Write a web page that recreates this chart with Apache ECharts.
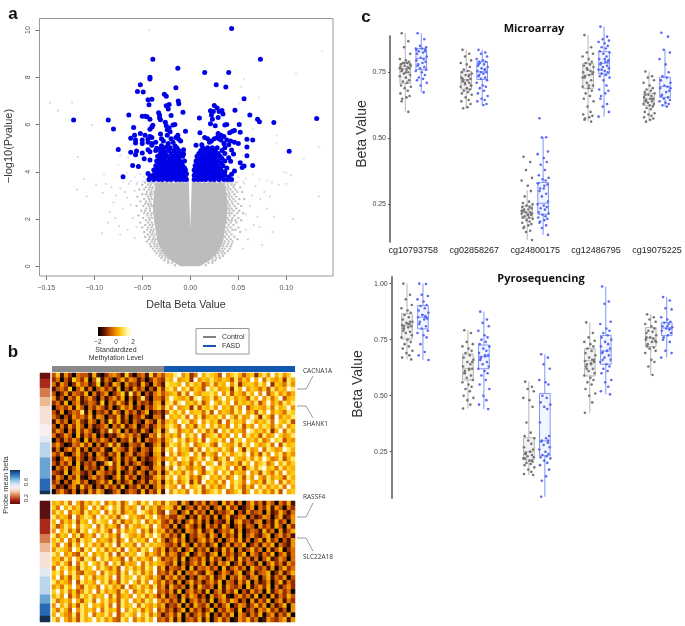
<!DOCTYPE html>
<html><head><meta charset="utf-8">
<style>html,body{margin:0;padding:0;background:#fff}#c{width:685px;height:626px;filter:blur(0.55px)}</style>
<script src="https://cdn.jsdelivr.net/npm/echarts@6/dist/echarts.min.js"></script>
</head><body><div id="c"></div>
<script>
const volcanoXTicks=[-0.15,-0.10,-0.05,0,0.05,0.10];
const volcanoYTicks=[0,2,4,6,8,10];
const cloudLevels=[3.58,3,2.5,2,1.5,1,0.75,0.5,0.25,0.1,0];
const cloudLeft=[-0.036,-0.038,-0.039,-0.038,-0.036,-0.034,-0.031,-0.027,-0.02,-0.014,-0.01];
const cloudRight=[0.036,0.038,0.039,0.038,0.036,0.034,0.031,0.027,0.02,0.014,0.01];
const cloudGapTop=[[0.0016,3.58],[0,1.6],[-0.0016,3.58]];
const grayEdgeRows=[
[3.55,[-.047,-.043,-.04,-.038,.038,.041,.044,.048]],[3.45,[-.05,-.044,-.041,-.037,.039,.043,.046]],[3.35,[-.046,-.042,-.039,.037,.04,.045,.052]],[3.25,[-.053,-.048,-.043,-.04,.039,.042,.047]],[3.15,[-.045,-.041,-.038,.04,.044,.049,.054]],
[3.05,[-.05,-.046,-.042,-.04,.038,.041,.046]],[2.95,[-.055,-.044,-.041,.04,.043,.048]],[2.85,[-.048,-.043,-.04,.041,.045,.051,.056]],[2.75,[-.052,-.046,-.042,.039,.043,.047]],[2.65,[-.047,-.044,-.041,.04,.044,.05]],
[2.55,[-.056,-.049,-.043,-.04,.041,.046,.053]],[2.45,[-.046,-.042,.04,.043,.048]],[2.35,[-.051,-.047,-.042,.041,.045,.051]],[2.25,[-.048,-.044,-.04,.04,.043,.049,.055]],[2.15,[-.054,-.045,-.041,.041,.046]],
[2.05,[-.049,-.043,-.04,.039,.044,.05]],[1.95,[-.046,-.042,.04,.043,.047,.053]],[1.85,[-.052,-.044,-.04,.038,.042,.048]],[1.75,[-.047,-.042,-.039,.04,.045]],[1.65,[-.05,-.044,-.04,.038,.042,.05]],
[1.55,[-.045,-.041,-.038,.039,.044,.047]],[1.45,[-.048,-.042,-.039,.037,.041,.052]],[1.35,[-.044,-.04,-.037,.038,.043]],[1.25,[-.047,-.042,-.038,.036,.04,.046]],[1.15,[-.043,-.039,-.036,.038,.042,.049]],
[1.05,[-.045,-.04,-.037,.036,.04,.044]],[.95,[-.042,-.038,-.035,.035,.039,.043]],[.85,[-.041,-.037,-.034,.034,.038,.042]],[.75,[-.039,-.035,-.032,.033,.036,.041]],[.65,[-.037,-.033,-.03,.031,.034,.039]],
[.55,[-.035,-.031,-.028,.029,.033,.036]],[.45,[-.032,-.029,-.026,.026,.03,.034]],[.35,[-.03,-.026,-.023,.023,.027,.031]],[.25,[-.027,-.023,.023,.026]],[.15,[-.023,-.019,.019,.023]],[.05,[-.016,.016]]];
const blueSparse=[[.043,10.07],[.073,8.76],[-.039,8.77],[-.013,8.38],[.015,8.2],[.04,8.2],[-.042,8],[-.042,7.93],[-.052,7.69],[-.055,7.4],[-.049,7.38],[-.015,7.56],[.027,7.69],[.037,7.59],[-.027,7.28],[-.025,7.2],[-.044,7.05],[-.04,7.07],[-.0125,7],[-.012,6.88],[.056,7.09],[-.043,6.84],[-.025,6.8],[-.022,6.85],[-.023,6.66],[-.0076,6.52],[-.1215,6.19],[-.0854,6.19],[-.064,6.4],[-.08,5.81],[-.075,4.95],[-.07,3.79],[.1316,6.26],[.087,6.09],[.103,4.87],[.07,6.22],[.072,6.12],[.062,6.4],[.0465,6.61],[.025,6.81],
[-.05,6.35],[-.047,6.35],[-.045,6.33],[-.042,6.22],[-.033,6.5],[-.032,6.4],[-.032,6.28],[-.031,6.2],[-.026,6.1],[-.02,6.38],[-.039,5.97],[-.04,5.9],[-.042,5.8],[-.059,5.88],[-.052,5.62],[-.058,5.55],[-.047,5.55],[-.042,5.5],[-.04,5.45],[-.031,5.6],[-.025,5.95],[-.022,5.85],[-.018,5.98],[-.016,6],[-.024,5.78],[-.021,5.7],[-.013,5.55],[-.005,5.72],[-.062,5.42],[-.057,5.35],[-.057,5.22],[-.05,5.35],[-.05,5.2],[-.044,5.38],[-.044,5.25],[-.04,5.2],[-.04,5.12],[-.036,5.25],[-.03,5.4],[-.028,5.3],[-.024,5.55],[-.023,5.2],[-.02,5.4],[-.018,5.25],[-.015,5.45],[-.012,5.38],[-.01,5.3],[-.062,4.83],[-.056,4.88],[-.057,4.72],[-.05,4.8],[-.044,4.93],[-.042,4.85],[-.035,5],[-.032,4.95],[-.03,5.1],[-.028,4.8],[-.025,5.05],[-.022,4.95],[-.016,5.1],[-.007,4.93],[-.007,4.75],[-.06,4.27],[-.054,4.22],[-.048,4.55],[-.042,4.5],[-.044,3.93],[-.042,3.82],
[.0095,6.28],[.021,6.58],[.022,6.4],[.024,6.55],[.028,6.7],[.03,6.55],[.033,6.6],[.034,6.45],[.029,6.3],[.023,6.22],[.021,6.03],[.026,5.95],[.036,5.98],[.038,6],[.051,6],[.052,5.68],[.046,5.75],[.044,5.72],[.041,5.65],[.01,5.65],[.029,5.62],[.032,5.55],[.035,5.5],[.059,5.38],[.065,5.35],[.059,5.05],[.059,4.68],[.065,4.27],[.056,4.25],[.054,4.18],[.052,4.38],[.046,5.25],[.05,5.2],[.042,5.3],[.04,5.15],[.038,5.35],[.035,5.2],[.032,5.35],[.03,5.4],[.028,5.45],[.025,5.4],[.022,5.3],[.02,5.25],[.018,5.4],[.015,5.45],[.012,5.15],[.006,5.12],[.043,4.92],[.045,4.75],[.04,4.6],[.042,4.45],[.046,4.03],[.043,3.9],[.04,3.78],[.036,3.85]];
const blueDenseRows=[
[3.68,[-.043,-.038,-.033,-.029,-.024,-.02,-.015,-.011,-.007,-.004,.004,.008,.012,.016,.021,.025,.03,.035,.039,.043]],
[3.76,[-.041,-.036,-.031,-.026,-.022,-.017,-.013,-.009,-.005,.006,.01,.014,.019,.023,.027,.032]],
[3.84,[-.039,-.034,-.028,-.024,-.019,-.015,-.01,-.006,.004,.008,.012,.017,.021,.026,.03,.034]],
[3.92,[-.037,-.032,-.027,-.022,-.018,-.012,-.008,-.004,.005,.01,.014,.019,.024,.028,.033]],
[4.0,[-.035,-.03,-.025,-.02,-.016,-.011,-.007,.006,.011,.015,.02,.025,.03,.036]],
[4.08,[-.038,-.031,-.026,-.021,-.017,-.013,-.009,-.005,.004,.008,.013,.018,.022,.027,.032]],
[4.16,[-.034,-.029,-.024,-.019,-.014,-.01,-.006,.006,.01,.016,.02,.025,.03,.038]],
[4.26,[-.036,-.031,-.027,-.022,-.017,-.012,-.008,.005,.009,.014,.019,.023,.028,.034]],
[4.36,[-.033,-.028,-.023,-.018,-.014,-.009,.007,.012,.017,.022,.026,.032]],
[4.46,[-.035,-.03,-.025,-.02,-.015,-.011,-.006,.006,.011,.015,.02,.025,.029,.036]],
[4.56,[-.032,-.027,-.021,-.016,-.012,.008,.013,.018,.023,.027,.033]],
[4.66,[-.034,-.029,-.024,-.018,-.013,-.008,.007,.012,.017,.021,.026,.031]],
[4.78,[-.031,-.026,-.02,-.015,-.01,.009,.014,.019,.024,.029,.036]],
[4.9,[-.036,-.028,-.023,-.017,-.012,.011,.016,.021,.026,.033]],
[5.02,[-.03,-.021,-.014,.013,.018,.023,.028,.036]]];
const grayOutliers=[[-.138,6.6],[-.146,6.92],[-.123,6.93],[-.102,5.98],[-.117,4.63],[-.111,3.7],[-.118,3.25],[-.108,2.95],[-.098,3.45],[-.088,3.5],[-.091,3.1],[-.082,3.35],[-.077,3.0],[-.073,3.3],[-.068,3.15],[-.08,2.7],[-.084,2.3],[-.086,1.85],[-.078,2.05],[-.074,1.7],[-.07,2.45],[-.066,2.9],[-.062,2.6],[-.06,2.05],[-.058,3.2],[-.056,1.65],[-.058,1.2],[-.065,1.55],[-.073,1.35],[-.092,1.4],[-.056,3.48],[-.064,3.5],[.055,0.75],[.058,1.55],[.058,2.2],[.062,2.55],[.06,1.15],[.066,1.75],[.064,3.0],[.068,3.4],[.07,2.1],[.072,1.65],[.073,2.85],[.075,0.9],[.077,3.15],[.08,2.45],[.083,2.95],[.085,3.55],[.087,2.1],[.086,1.45],[.107,2.0],[.134,2.95],[.092,3.45],[.1,3.5],[.105,3.85],[.056,3.5]];
const faintPoints=[[-.043,10],[.137,9.1],[.11,8.15],[.056,7.93],[.071,7.15],[.051,6.9],[.134,5.05],[.118,4.55],[.1,3.95],[.097,4.0],[.09,5.2],[.09,5.55],[.065,5.8],[.053,7.6],[-.09,3.9],[-.075,4.3],[-.073,4.7],[-.065,4.6],[-.066,3.95],[-.058,3.78],[-.052,3.9],[-.048,3.78],[.05,3.78],[.058,3.72],[.065,3.9],[.072,3.68],[.08,3.62],[.055,3.58],[.049,3.56],[.044,3.57],[.039,3.6],[.034,3.58],[.028,3.57],[.022,3.6],[.017,3.58],[.012,3.57],[.006,3.6],[-.006,3.58],[-.012,3.6],[-.017,3.57],[-.022,3.58],[-.027,3.6],[-.033,3.57],[-.038,3.6],[-.044,3.58],[-.049,3.6],[-.055,3.56],[-.062,3.6],[-.07,3.58]];

const heatColumns=60;
const heatTopRows=[
"3715204331 6102453172 0341725366 8957249687 6395786367 2685968579",
"2403174260 3814203625 4130253276 9567295768 6576384759 6948657286",
"4153026341 2703164052 3162053187 7695867358 4769582677 5869276485",
"1342703614 0352416031 5240316278 5968476397 8567286957 6473857698",
"3025143260 4135024718 2503146356 7384965778 6958376486 9593685746",
"5130426135 2041352604 1382044269 7657389568 4796857638 6958479367",
"2416035124 3170426315 0423156178 4896758369 7586947675 8369574868",
"0342516304 2531402635 1304257385 9567283768 5967485936 7658486795",
"3150243815 0324163052 4136023148 6859677483 9576486957 3869576487",
"4203153426 1540326140 3251044196 7684958367 6859748569 7286395768",
"1524036215 3041726130 4205316267 5978469586 7394867598 5768497683",
"3041526304 1235042613 5024136378 6495738696 8574968375 9687486957",
"2530416253 0142836041 3152047169 8467596847 3968576498 6758269486",
"4125306142 5030214635 2401538375 7496859367 8475969486 7385697568",
"0314253061 4253140326 1504235267 9684758397 6859487967 5846978365",
"3520143625 0413726104 3250146158 7586946785 3976584869 7568493867",
"1403526140 3251064315 2043167286 9576384968 7586497285 6948756986",
"4251036214 0531426035 1342056195 8467958376 4968578694 7385968475",
"2036415203 1452036142 5031246367 5978468597 3684976585 8697458368",
"3142506132 4015826041 3520147196 8467385967 9486573869 5784696857",
"0425136042 3150426315 2043156284 9685476398 6785947268 5896748576",
"3216045213 0542316024 1530426158 6748596378 5968476595 7386485967",
"1530426103 5241036152 4031257386 9578463896 7584697385 9648576386",
"2403156240 1352604135 0241536175 8468273967 5849687496 5738694857",
"4120351624 0315241603 2514036386 5949678385 7469586374 9685768496",
"0352140315 2640135024 3161427195 8674968357 8694578369 6857483967"];
const heatBottomRows=[
"6758496375 8694758369 7486957385 5163042514 3062514036 2415304261",
"7496857369 5847968375 6948573576 2603415240 3516240135 0426153042",
"5869476385 7694858367 5986473294 4036152405 1324603152 3405126314",
"8576394687 4968573896 7548695352 2540316241 5036124503 1254036125",
"6947583769 5876948365 8694757325 1403625140 3215046231 4503162405",
"7358694876 9485763948 6578496341 5026314052 4163025143 0524163052",
"5968473869 7586394857 6947385624 1305426135 0243615024 3162405136",
"8476958367 4968573986 5748697352 4160325416 3052416035 2146035241",
"6859473867 9576483695 8674958413 6250314625 1403526140 3516240315",
"7496385968 5748693867 4958676532 4163052413 6025143602 4153604215",
"5876497386 9684758396 7486953614 2503614250 3162504136 2405136024",
"8695743869 5768493857 6984753725 4136025314 6052413605 3142603514",
"6748596387 4968576394 8576496243 5160342516 2403516241 4036125304",
"7586394869 7584968375 6948576532 6041352604 1536025143 1503624153",
"4968573867 9586473968 5748693614 3250614352 4061352406 3241503624",
"7859684376 5948673859 6847593425 1604352164 0253146025 1346025136",
"6947385968 4768593867 9586474153 6240315426 1350426314 5036142503",
"8576493867 5968473869 7485963624 1503624135 2604315260 4125036142",
"5748695386 7496857394 6857483516 3240516324 0615324061 3526041352",
"7968473586 9485763869 4758693425 1603524160 3514260315 2406135240",
"6859374868 5769483675 9684752614 3052641305 2461035241 6030514263",
"8467596378 4968573869 5748695352 4160352416 0352641305 1426035142",
"5968473869 6758493867 9486574613 2504163250 4136025413 6250413605",
"7486395867 5948673958 6847593524 1360524136 0425316024 1536241305",
"6975483869 4768593687 5968474135 2604135260 3142605314 2603514260",
"8596473867 9685743869 4758693426 1503426150 3624015362 4015324615"];
const stripTopBeta=[.12,.12,.2,.2,.2,.3,.3,.3,.38,.38,.38,.45,.45,.45,.45,.45,.45,.5,.5,.5,.5,.55,.55,.62,.62,.62,.62,.62,.72,.72,.72,.72,.72,.72,.72,.82,.82,.82,.82,.92];
const stripBottomBeta=[.1,.1,.1,.1,.1,.1,.2,.2,.2,.2,.2,.3,.3,.3,.38,.38,.38,.45,.45,.45,.45,.45,.55,.55,.55,.62,.62,.62,.62,.62,.62,.72,.72,.72,.82,.82,.82,.82,.92,.92];

const probes=["cg10793758","cg02858267","cg24800175","cg12486795","cg19075225"];
const jitterOffsets=[-.06,.05,-.02,.08,-.09,.01,.06,-.04,.03,-.07,.09,-.01,.04,-.08,.07,.02,-.05];
const microGray=[
[.898,.868,.845,.82,.80,.795,.79,.785,.785,.78,.775,.775,.77,.77,.765,.76,.76,.755,.75,.745,.74,.735,.73,.72,.715,.71,.70,.695,.69,.68,.67,.66,.655,.65,.64,.60,.785,.78,.765,.75],
[.835,.82,.81,.795,.785,.78,.77,.76,.755,.75,.745,.74,.735,.73,.725,.72,.72,.715,.71,.705,.70,.695,.69,.685,.68,.675,.67,.665,.655,.645,.64,.63,.618,.614,.725,.74,.71,.70],
[.43,.41,.38,.35,.34,.32,.30,.28,.26,.255,.25,.245,.24,.24,.235,.23,.23,.225,.22,.22,.215,.215,.21,.21,.205,.20,.20,.195,.19,.185,.18,.175,.17,.165,.16,.15,.145,.115,.225,.21],
[.891,.845,.825,.82,.81,.80,.79,.785,.78,.775,.77,.76,.755,.75,.745,.74,.735,.73,.72,.71,.70,.695,.69,.68,.67,.66,.65,.64,.62,.60,.59,.585,.58,.575,.57,.563,.765,.75,.73,.70],
[.753,.735,.73,.72,.71,.70,.69,.685,.68,.675,.67,.665,.66,.655,.65,.65,.645,.64,.64,.635,.63,.63,.625,.62,.615,.61,.60,.595,.59,.585,.58,.575,.57,.563,.665,.65]];
const microBlue=[
[.898,.875,.85,.845,.84,.84,.835,.83,.825,.82,.81,.805,.80,.795,.79,.785,.78,.775,.77,.765,.76,.755,.75,.74,.73,.725,.72,.71,.70,.674,.835,.83],
[.835,.825,.82,.81,.80,.795,.79,.785,.78,.775,.77,.765,.76,.755,.75,.745,.74,.735,.73,.725,.72,.71,.70,.695,.69,.68,.67,.66,.65,.645,.64,.63,.626,.79,.78,.76,.75],
[.576,.504,.503,.45,.44,.425,.41,.40,.38,.36,.35,.345,.34,.33,.325,.32,.31,.30,.29,.28,.26,.25,.245,.24,.235,.23,.22,.215,.21,.205,.20,.195,.19,.185,.18,.17,.16,.134,.33,.31],
[.923,.885,.875,.87,.865,.86,.85,.845,.84,.83,.825,.82,.81,.80,.795,.79,.785,.78,.775,.77,.765,.76,.755,.75,.745,.74,.735,.73,.72,.70,.685,.68,.67,.66,.65,.63,.62,.60,.582,.80,.79,.76],
[.90,.885,.835,.825,.80,.78,.75,.735,.73,.72,.71,.70,.695,.69,.68,.675,.665,.66,.655,.65,.645,.64,.635,.63,.625,.62,.72,.69]];
const pyroGray=[
[1.0,.95,.93,.905,.89,.88,.87,.86,.85,.84,.83,.825,.82,.815,.81,.805,.80,.79,.785,.78,.77,.76,.75,.74,.73,.72,.71,.70,.69,.68,.67,.662,.82,.81,.80,.83],
[.792,.78,.74,.73,.72,.71,.70,.69,.68,.67,.66,.65,.64,.63,.62,.615,.61,.60,.59,.58,.57,.56,.55,.54,.53,.52,.50,.49,.48,.46,.443,.65,.62,.60],
[.5625,.54,.53,.52,.49,.48,.45,.38,.335,.32,.31,.30,.285,.27,.26,.25,.245,.24,.235,.23,.225,.22,.21,.205,.20,.195,.19,.18,.17,.16,.15,.146,.25,.24,.22,.21],
[.827,.78,.76,.745,.74,.73,.72,.71,.70,.69,.68,.67,.66,.655,.65,.645,.64,.63,.62,.61,.60,.59,.58,.57,.56,.55,.53,.51,.50,.47,.424,.66,.64,.62],
[.863,.85,.84,.83,.82,.81,.80,.79,.785,.78,.77,.76,.755,.75,.745,.74,.73,.72,.715,.71,.70,.69,.66,.65,.63,.592,.76,.74]];
const pyroBlue=[
[1.0,.998,.95,.945,.93,.92,.905,.90,.89,.88,.87,.86,.855,.85,.845,.84,.83,.82,.81,.80,.79,.78,.77,.76,.73,.695,.68,.659,.86,.85],
[.875,.84,.825,.81,.79,.77,.76,.75,.74,.73,.72,.71,.70,.69,.68,.675,.67,.66,.65,.64,.63,.62,.61,.60,.59,.57,.55,.53,.50,.48,.46,.44,.68,.67,.66],
[.685,.67,.64,.62,.57,.56,.55,.50,.49,.47,.46,.45,.44,.38,.32,.31,.30,.295,.29,.28,.27,.26,.25,.24,.235,.23,.225,.22,.21,.20,.19,.17,.14,.12,.049,.30],
[.987,.92,.91,.83,.82,.80,.79,.78,.77,.76,.75,.74,.73,.72,.71,.70,.695,.69,.68,.67,.66,.65,.64,.63,.62,.61,.60,.57,.56,.54,.52,.506,.70,.66],
[.94,.925,.89,.885,.85,.84,.83,.825,.82,.81,.805,.80,.795,.79,.78,.77,.76,.75,.74,.70,.69,.67,.81,.80]];
// [whisker low, q1, median, q3, whisker high]
const microGrayBox=[[.60,.708,.765,.784,.898],[.614,.686,.723,.754,.835],[.115,.197,.218,.244,.304],[.563,.689,.74,.784,.891],[.563,.624,.649,.67,.753]];
const microBlueBox=[[.674,.76,.803,.84,.898],[.626,.723,.752,.79,.835],[.134,.212,.254,.333,.504],[.582,.744,.784,.828,.923],[.62,.655,.696,.731,.835]];
const pyroGrayBox=[[.662,.753,.815,.866,1.0],[.443,.57,.62,.686,.792],[.146,.213,.25,.3125,.5625],[.424,.588,.656,.711,.827],[.592,.719,.757,.804,.863]];
const pyroBlueBox=[[.659,.798,.85,.902,1.0],[.44,.62,.676,.726,.875],[.049,.232,.298,.51,.685],[.506,.64,.70,.769,.987],[.67,.768,.802,.827,.94]];

const FONT='"Liberation Sans",Arial,sans-serif';
const heatColors=['#0a0200','#4a1000','#942e00','#c05000','#dc7000','#f09200','#f8b000','#fccc14','#ffe860','#fffdf0'];
const betaColors=['#5a0f10','#a01c10','#c85a35','#e8a070','#f5dcc8','#f8f0f5','#d0e0f0','#90c0e0','#4a8ec8','#2060b0','#1a3050'];
const range=n=>Array.from({length:n},(_,i)=>i);
const heatData=rows=>{const out=[];rows.forEach((r,y)=>{r.replace(/ /g,'').split('').forEach((d,x)=>out.push([x,y,+d]));});return out;};
const stripData=a=>a.map((v,i)=>[0,i,v]);
const rowsToPoints=rows=>{const o=[];rows.forEach(([y,xs])=>xs.forEach(x=>o.push([x,y])));return o;};
const side=.131;
const pts=(lists,off)=>{const out=[];lists.forEach((vals,g)=>vals.forEach((v,i)=>out.push([g+1+off+jitterOffsets[i%jitterOffsets.length],v])));return out;};
const boxes=(list,off)=>list.map((b,g)=>[g+1+off,...b]);
const boxRender=(stroke,fill)=>(p,api)=>{
  const x=api.value(0),w=api.size([.175,0])[0];
  const P=v=>api.coord([x,v]);const lo=P(api.value(1)),q1=P(api.value(2)),m=P(api.value(3)),q3=P(api.value(4)),hi=P(api.value(5));
  const st={stroke,lineWidth:1,fill:null};
  return {type:'group',children:[
    {type:'line',shape:{x1:lo[0],y1:lo[1],x2:q1[0],y2:q1[1]},style:st},
    {type:'line',shape:{x1:q3[0],y1:q3[1],x2:hi[0],y2:hi[1]},style:st},
    {type:'rect',shape:{x:q3[0]-w/2,y:q3[1],width:w,height:q1[1]-q3[1]},style:{stroke,lineWidth:1,fill}},
    {type:'line',shape:{x1:m[0]-w/2,y1:m[1],x2:m[0]+w/2,y2:m[1]},style:st}]};
};
const cloudRender=(p,api)=>{
  const pp=[];
  cloudLevels.forEach((l,i)=>pp.push(api.coord([cloudLeft[i],l])));
  for(let i=cloudLevels.length-1;i>=0;i--)pp.push(api.coord([cloudRight[i],cloudLevels[i]]));
  cloudGapTop.forEach(q=>pp.push(api.coord(q)));
  return {type:'polygon',shape:{points:pp},style:{fill:'#bcbcbc'},silent:true};
};
const hiddenCat=(n,grid,inv)=>({type:'category',gridIndex:grid,data:range(n),show:false,inverse:!!inv});
const T=(text,x,y,size,o={})=>({type:'text',x,y,rotation:o.rot||0,style:{text,fill:o.color||'#333',font:`${o.weight||'normal'} ${size}px ${o.family||FONT}`,textAlign:o.align||'center',textVerticalAlign:'middle'},silent:true});
const L=(pts,color='#999',w=1)=>({type:'polyline',shape:{points:pts},style:{stroke:color,lineWidth:w,fill:null},silent:true});
const R=(x,y,w,h,fill,stroke)=>({type:'rect',shape:{x,y,width:w,height:h},style:{fill,stroke:stroke||null,lineWidth:stroke?1:0},silent:true});
const grad=(colors,vert)=>({type:'linear',x:0,y:vert?1:0,x2:vert?0:1,y2:0,colorStops:colors.map((c,i)=>({offset:i/(colors.length-1),color:c}))});

const cYAxis=(grid,min,max,ticks)=>({type:'value',gridIndex:grid,min,max,splitLine:{show:false},
  axisLine:{show:true,onZero:false,lineStyle:{color:'#555',width:1.5}},axisTick:{show:true,length:2,lineStyle:{color:'#555'},customValues:ticks},
  axisLabel:{customValues:ticks,fontSize:7,color:'#444',fontFamily:FONT,margin:4,formatter:v=>v.toFixed(2)}});
const cXAxis=(grid,min,max,labels)=>({type:'value',gridIndex:grid,min,max,splitLine:{show:false},axisLine:{show:false,onZero:false},axisTick:{show:false},
  axisLabel:labels?{customValues:[1,2,3,4,5],fontSize:9,color:'#222',fontFamily:FONT,margin:4,formatter:v=>probes[v-1]}:{show:false}});
const vStyle={color:'#555',fontSize:7,fontFamily:FONT};
const axisTickLine={show:true,length:4,lineStyle:{color:'#777'}};
const scat=(x,data,size,color,z)=>({type:'scatter',xAxisIndex:x,yAxisIndex:x,data,symbolSize:size,itemStyle:{color,opacity:1},clip:false,silent:true,z:z||2,animation:false});
const boxSeries=(x,list,off,stroke,fill)=>({type:'custom',xAxisIndex:x,yAxisIndex:x,data:boxes(list,off),renderItem:boxRender(stroke,fill),encode:{x:0,y:3},silent:true,clip:false,z:3,animation:false});
const heatSeries=(x,data)=>({type:'heatmap',xAxisIndex:x,yAxisIndex:x,data,silent:true,animation:false,progressive:0});

const chart=echarts.init(document.getElementById('c'),null,{renderer:'canvas'});
chart.setOption({
 animation:false,backgroundColor:'#fff',tooltip:{show:false},
 grid:[
  {left:39.5,top:18.5,width:293.5,height:257.5,show:true,borderColor:'#999',borderWidth:1,backgroundColor:'transparent'},
  {left:52,top:373,width:243,height:121},
  {left:52,top:501,width:243,height:121},
  {left:40,top:373,width:10,height:121},
  {left:40,top:501,width:10,height:121},
  {left:390,top:36,width:290,height:206},
  {left:391.7,top:276.7,width:288,height:221.6}],
 xAxis:[
  {type:'value',gridIndex:0,min:-0.157,max:0.1486,splitLine:{show:false},axisLine:{show:false,onZero:false},axisTick:{...axisTickLine,customValues:volcanoXTicks},
   axisLabel:{...vStyle,customValues:volcanoXTicks,margin:9,formatter:v=>(v<0?'\u2212':'')+Math.abs(v).toFixed(2)}},
  hiddenCat(heatColumns,1),hiddenCat(heatColumns,2),hiddenCat(1,3),hiddenCat(1,4),
  cXAxis(5,.618,5.377,true),cXAxis(6,.618,5.344,false)],
 yAxis:[
  {type:'value',gridIndex:0,min:-0.41,max:10.49,splitLine:{show:false},axisLine:{show:false,onZero:false},axisTick:{...axisTickLine,customValues:volcanoYTicks},
   axisLabel:{...vStyle,customValues:volcanoYTicks,rotate:90,margin:8}},
  hiddenCat(heatTopRows.length,1,true),hiddenCat(heatBottomRows.length,2,true),
  hiddenCat(stripTopBeta.length,3,true),hiddenCat(stripBottomBeta.length,4,true),
  cYAxis(5,.1072,.8875,[.25,.5,.75]),cYAxis(6,.042,1.031,[.25,.5,.75,1])],
 visualMap:[
  {show:false,seriesIndex:[5,6],dimension:2,min:0,max:9,inRange:{color:heatColors}},
  {show:false,seriesIndex:[7,8],dimension:2,min:.1,max:.92,inRange:{color:betaColors}}],
 series:[
  {type:'custom',xAxisIndex:0,yAxisIndex:0,data:[[0,0]],renderItem:cloudRender,silent:true,z:1,animation:false},
  scat(0,rowsToPoints(grayEdgeRows),2.4,'#c2c2c2',1),
  scat(0,grayOutliers,2,'#d2d2d2',1),
  scat(0,faintPoints,2.5,'#e6e6f6',1),
  scat(0,blueSparse.concat(rowsToPoints(blueDenseRows)),5,'#0000e6',2),
  heatSeries(1,heatData(heatTopRows)),
  heatSeries(2,heatData(heatBottomRows)),
  heatSeries(3,stripData(stripTopBeta)),
  heatSeries(4,stripData(stripBottomBeta)),
  boxSeries(5,microGrayBox,-side,'#b5b5b5','rgba(210,210,210,.3)'),
  boxSeries(5,microBlueBox,side,'#7f96f7','rgba(160,175,250,.12)'),
  scat(5,pts(microGray,-side),2.6,'#767676',4),
  scat(5,pts(microBlue,side),2.6,'#5a6bf2',4),
  boxSeries(6,pyroGrayBox,-side,'#b5b5b5','rgba(210,210,210,.3)'),
  boxSeries(6,pyroBlueBox,side,'#7f96f7','rgba(160,175,250,.12)'),
  scat(6,pts(pyroGray,-side),2.6,'#767676',4),
  scat(6,pts(pyroBlue,side),2.6,'#5a6bf2',4)],
 graphic:{elements:[
  T('a',13,14,17,{weight:'bold',color:'#111'}),T('b',13,352,17,{weight:'bold',color:'#111'}),T('c',366,17,17,{weight:'bold',color:'#111'}),
  T('\u2212log10(Pvalue)',9,146,11,{rot:Math.PI/2}),T('Delta Beta Value',186,305,10.7),
  R(98,327,35,9,grad(['#000000','#5a1200','#c04a00','#f09000','#fcd020','#fff8b0','#ffffff'])),
  T('\u22122',98,342,6.5),T('0',116,342,6.5),T('2',133,342,6.5),
  T('Standardized',116,350,7),T('Methylation Level',116,358,7),
  R(196,328.5,53,25.5,'#fff','#999'),L([[203,337],[216,337]],'#808080',2),L([[203,346],[216,346]],'#1258b0',2),
  T('Control',222,337,7,{align:'left'}),T('FASD',222,346,7,{align:'left'}),
  R(52,366,112,6,'#8a8a8a'),R(164,366,131,6,'#1258b0'),
  T('CACNA1A',303,371,6.5,{align:'left',family:'"Open Sans",sans-serif'}),T('SHANK1',303,424,6.5,{align:'left',family:'"Open Sans",sans-serif'}),
  T('RASSF4',303,497,6.5,{align:'left',family:'"Open Sans",sans-serif'}),T('SLC22A18',303,557,6.5,{align:'left',family:'"Open Sans",sans-serif'}),
  L([[297,389],[306,389],[313,376]]),L([[297,406],[306,406],[313,418]]),L([[297,517],[306,517],[313,503]]),L([[297,538],[306,538],[313,551]]),
  R(10,470,10,34,grad(betaColors,true)),
  T('Probe mean beta',6,485,7.5,{rot:Math.PI/2}),T('0.2',26,498,6,{rot:Math.PI/2}),T('0.6',26,482,6,{rot:Math.PI/2}),
  T('Microarray',534,29,11,{weight:'bold',family:'"Open Sans",sans-serif',color:'#111'}),
  T('Pyrosequencing',541,279,11,{weight:'bold',family:'"Open Sans",sans-serif',color:'#111'}),
  T('Beta Value',362,134,14,{rot:Math.PI/2}),T('Beta Value',358,384,14,{rot:Math.PI/2})]}
});
</script></body></html>
